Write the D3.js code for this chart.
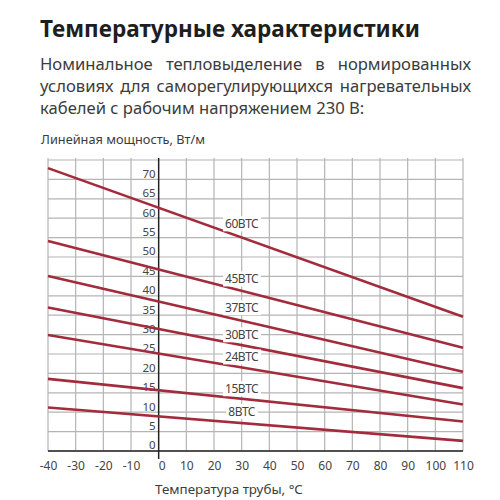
<!DOCTYPE html>
<html><head><meta charset="utf-8">
<script src="https://cdn.jsdelivr.net/npm/d3@7"></script>
<style>body{margin:0;background:#fff}</style>
</head><body>
<svg id="c" width="500" height="500"></svg>
<script>
// ---- data ----
const titleText = "Температурные характеристики";
const subtitleLines = [
  "Номинальное тепловыделение в нормированных",
  "условиях для саморегулирующихся нагревательных",
  "кабелей с рабочим напряжением 230 В:"
];
const yAxisTitle = "Линейная мощность, Вт/м";
const xAxisTitle = "Температура трубы, °С";
const seriesNames = ["60ВТС", "45ВТС", "37ВТС", "30ВТС", "24ВТС", "15ВТС", "8ВТС"];
const temperatures = [-40, 110];
const power60 = [72.9, 34.6];
const power45 = [54.1, 26.6];
const power37 = [45.1, 20.4];
const power30 = [37.0, 16.2];
const power24 = [29.9, 12.0];
const power15 = [18.6, 7.6];
const power8 = [11.2, 2.6];
const labelTemperature = 30;
const labelValues = [58.5, 44.3, 36.9, 29.9, 24.2, 16.0, 10.1];
const xTicks = d3.range(-40, 111, 10);
const yTicks = d3.range(0, 71, 5);
const yGridValues = d3.range(0, 76, 5);

const seriesValues = [power60, power45, power37, power30, power24, power15, power8];
const series = seriesNames.map((n, i) => ({
  name: n,
  points: temperatures.map((t, j) => ({t, v: seriesValues[i][j]})),
  labelV: labelValues[i]
}));

// ---- drawing ----
const FONT = "'Noto Sans', 'Open Sans', sans-serif";
const svg = d3.select("#c");
const x = d3.scaleLinear().domain([-40, 110]).range([48, 463]);
const y = d3.scaleLinear().domain([0, 75]).range([451, 160]);

function fitText(sel, width) {
  const fs = parseFloat(sel.attr("font-size"));
  const w = sel.node().getComputedTextLength();
  sel.attr("font-size", (fs * width / w).toFixed(2));
}

// title
const title = svg.append("text").attr("x", 40).attr("y", 37)
  .attr("font-family", FONT).attr("font-weight", 700).attr("font-size", 21)
  .attr("fill", "#1e1e1e").text(titleText);
fitText(title, 380);

// subtitle
const sub = svg.append("g").attr("font-family", FONT).attr("fill", "#3c3c3c");
const subBase = [69.5, 91.8, 114];
const subTexts = subtitleLines.map((s, i) => sub.append("text")
  .attr("x", 40).attr("y", subBase[i]).attr("font-size", 16).text(s));
fitText(subTexts[1], 424);
const subFs = subTexts[1].attr("font-size");
subTexts.forEach((t, i) => {
  t.attr("font-size", subFs);
  if (i < 2) {
    const w = t.node().getComputedTextLength();
    const n = subtitleLines[i].split(" ").length - 1;
    t.attr("word-spacing", ((431 - w) / n).toFixed(2));
  }
});

// y axis title
const yt = svg.append("text").attr("x", 41).attr("y", 143.5)
  .attr("font-family", FONT).attr("font-size", 13).attr("fill", "#3c3c3c").text(yAxisTitle);
fitText(yt, 164);

// grid
const grid = svg.append("g").attr("stroke", "#b4b4b4").attr("stroke-width", 1.2);
grid.selectAll("line.h").data(yGridValues).join("line").attr("class", "h")
  .attr("x1", x(-40)).attr("x2", x(110))
  .attr("y1", d => y(d)).attr("y2", d => y(d));
grid.selectAll("line.v").data(xTicks.filter(d => d !== 0)).join("line").attr("class", "v")
  .attr("x1", d => x(d)).attr("x2", d => x(d))
  .attr("y1", y(75) - 2).attr("y2", y(0));

// axes lines
svg.append("line").attr("x1", x(-40)).attr("x2", x(110)).attr("y1", y(0)).attr("y2", y(0))
  .attr("stroke", "#222").attr("stroke-width", 1.5);
svg.append("line").attr("x1", x(0)).attr("x2", x(0)).attr("y1", y(75) - 2).attr("y2", y(0) + 8)
  .attr("stroke", "#222").attr("stroke-width", 1.5);

// tick labels
const yAx = svg.append("g").attr("transform", `translate(${x(0)},0)`)
  .call(d3.axisLeft(y).tickValues(yTicks).tickFormat(d => String(d)).tickSize(0).tickPadding(3));
yAx.select(".domain").remove();
yAx.selectAll("text").attr("dy", "-0.18em").attr("font-family", FONT)
  .attr("font-size", 11.5).attr("fill", "#444");

const xAx = svg.append("g").attr("transform", `translate(0,${y(0)})`)
  .call(d3.axisBottom(x).tickValues(xTicks).tickFormat(d => String(d)).tickSize(0).tickPadding(10));
xAx.select(".domain").remove();
xAx.selectAll("text").attr("font-family", FONT).attr("font-size", 12).attr("fill", "#444")
  .attr("dx", d => d === 0 ? 3 : 0);

// x axis title
const xt = svg.append("text").attr("x", 155).attr("y", 493.5)
  .attr("font-family", FONT).attr("font-size", 14).attr("fill", "#3c3c3c").text(xAxisTitle);
fitText(xt, 148);

// series lines
const line = d3.line().x(d => x(d.t)).y(d => y(d.v));
svg.append("g").selectAll("path").data(series).join("path")
  .attr("d", d => line(d.points)).attr("fill", "none")
  .attr("stroke", "#a22b3c").attr("stroke-width", 2.6);

// series labels
const lab = svg.append("g").selectAll("g").data(series).join("g")
  .attr("transform", d => `translate(${x(labelTemperature)},${y(d.labelV)})`);
lab.append("text").attr("text-anchor", "middle").attr("dy", "0.36em")
  .attr("font-family", FONT).attr("font-size", 12).attr("fill", "#444")
  .attr("letter-spacing", -0.5).text(d => d.name);
lab.each(function() {
  const g = d3.select(this);
  const bb = g.select("text").node().getBBox();
  g.insert("rect", "text").attr("x", bb.x - 2).attr("y", bb.y + 1)
    .attr("width", bb.width + 4).attr("height", bb.height - 2).attr("fill", "#fff");
});
</script>
</body></html>
